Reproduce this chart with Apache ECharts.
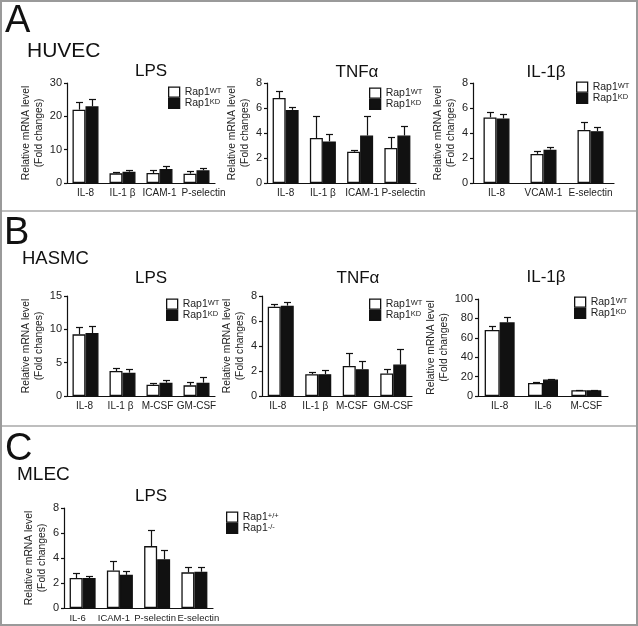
<!DOCTYPE html>
<html>
<head>
<meta charset="utf-8">
<script src="https://cdn.jsdelivr.net/npm/echarts@6/dist/echarts.min.js"></script>
<style>
html,body{margin:0;padding:0;background:#fff;}
#chart{width:638px;height:626px;}
</style>
</head>
<body>
<div id="chart"></div>
<script>
// ---------- DATA ----------
// Panel A: HUVEC
const huvecLpsCats = ['IL-8', 'IL-1 β', 'ICAM-1', 'P-selectin'];
const huvecLpsWT = [22, 2.9, 3.0, 2.8];
const huvecLpsWTSem = [2.2, 0.4, 0.8, 0.9];
const huvecLpsKD = [23, 3.4, 4.2, 3.8];
const huvecLpsKDSem = [2.3, 0.4, 0.8, 0.7];

const huvecTnfCats = ['IL-8', 'IL-1 β', 'ICAM-1', 'P-selectin'];
const huvecTnfWT = [6.8, 3.6, 2.5, 2.8];
const huvecTnfWTSem = [0.53, 1.75, 0.15, 0.85];
const huvecTnfKD = [5.85, 3.33, 3.8, 3.8];
const huvecTnfKDSem = [0.22, 0.62, 1.6, 0.75];

const huvecIl1Cats = ['IL-8', 'VCAM-1', 'E-selectin'];
const huvecIl1WT = [5.25, 2.33, 4.25];
const huvecIl1WTSem = [0.45, 0.27, 0.6];
const huvecIl1KD = [5.17, 2.67, 4.15];
const huvecIl1KDSem = [0.35, 0.18, 0.3];

// Panel B: HASMC
const hasmcLpsCats = ['IL-8', 'IL-1 β', 'M-CSF', 'GM-CSF'];
const hasmcLpsWT = [9.25, 3.75, 1.7, 1.6];
const hasmcLpsWTSem = [1.1, 0.5, 0.25, 0.5];
const hasmcLpsKD = [9.45, 3.5, 2.0, 2.0];
const hasmcLpsKDSem = [1.0, 0.6, 0.45, 0.85];

const hasmcTnfCats = ['IL-8', 'IL-1 β', 'M-CSF', 'GM-CSF'];
const hasmcTnfWT = [7.15, 1.75, 2.41, 1.8];
const hasmcTnfWTSem = [0.21, 0.18, 1.03, 0.37];
const hasmcTnfKD = [7.23, 1.75, 2.15, 2.52];
const hasmcTnfKDSem = [0.32, 0.37, 0.65, 1.27];

const hasmcIl1Cats = ['IL-8', 'IL-6', 'M-CSF'];
const hasmcIl1WT = [68, 13.5, 5.9];
const hasmcIl1WTSem = [4.5, 0.7, 0.7];
const hasmcIl1KD = [76, 17, 5.9];
const hasmcIl1KDSem = [5, 1, 0.7];

// Panel C: MLEC
const mlecLpsCats = ['IL-6', 'ICAM-1', 'P-selectin', 'E-selectin'];
const mlecLpsWT = [2.4, 3.0, 4.95, 2.85];
const mlecLpsWTSem = [0.4, 0.8, 1.3, 0.4];
const mlecLpsKO = [2.4, 2.65, 3.9, 2.9];
const mlecLpsKOSem = [0.15, 0.33, 0.75, 0.4];

// Axis scales
const axisMax = [30, 8, 8, 15, 8, 100, 8];
const axisInterval = [10, 2, 2, 5, 2, 20, 2];

// Text
const panelLetters = ['A', 'B', 'C'];
const cellTypes = ['HUVEC', 'HASMC', 'MLEC'];
const stimuli = ['LPS', 'TNFα', 'IL-1β', 'LPS', 'TNFα', 'IL-1β', 'LPS'];
const yName = 'Relative mRNA level\n(Fold changes)';

// ---------- LAYOUT ----------
const FONT = '"Liberation Sans", Arial, Helvetica, sans-serif';
const INK = '#111';

const panels = [
  {cats: huvecLpsCats, a: huvecLpsWT, aS: huvecLpsWTSem, b: huvecLpsKD, bS: huvecLpsKDSem,
   grid: {left: 67, top: 83, width: 148, height: 100}, bw: 13, gap: 18, leg: {left: 168, top: 86.5},
   names: ['WT', 'KD'], title: [151, 71], lab: 10, shift: [0, 0, 0, 7]},
  {cats: huvecTnfCats, a: huvecTnfWT, aS: huvecTnfWTSem, b: huvecTnfKD, bS: huvecTnfKDSem,
   grid: {left: 267, top: 83, width: 149, height: 100}, bw: 13, gap: 12, leg: {left: 369, top: 87.5},
   names: ['WT', 'KD'], title: [357, 72], lab: 10, shift: [0, 0, 2, 6]},
  {cats: huvecIl1Cats, a: huvecIl1WT, aS: huvecIl1WTSem, b: huvecIl1KD, bS: huvecIl1KDSem,
   grid: {left: 473, top: 83, width: 141, height: 100}, bw: 13, gap: 5, leg: {left: 576, top: 81.5},
   names: ['WT', 'KD'], title: [546, 72], lab: 10, shift: [0, 0, 0]},
  {cats: hasmcLpsCats, a: hasmcLpsWT, aS: hasmcLpsWTSem, b: hasmcLpsKD, bS: hasmcLpsKDSem,
   grid: {left: 67, top: 296, width: 148, height: 100}, bw: 13, gap: 18, leg: {left: 166, top: 298.5},
   names: ['WT', 'KD'], title: [151, 278], lab: 10, shift: [-1, -2, -2, 0]},
  {cats: hasmcTnfCats, a: hasmcTnfWT, aS: hasmcTnfWTSem, b: hasmcTnfKD, bS: hasmcTnfKDSem,
   grid: {left: 262, top: 296, width: 150, height: 100}, bw: 13, gap: 8, leg: {left: 369, top: 298.5},
   names: ['WT', 'KD'], title: [358, 278], lab: 10, shift: [-3, -3, -4, 0]},
  {cats: hasmcIl1Cats, a: hasmcIl1WT, aS: hasmcIl1WTSem, b: hasmcIl1KD, bS: hasmcIl1KDSem,
   grid: {left: 478, top: 299, width: 130, height: 97}, bw: 15, gap: 19, leg: {left: 574, top: 296.5},
   names: ['WT', 'KD'], title: [546, 277], lab: 10, shift: [0, 0, 0]},
  {cats: mlecLpsCats, a: mlecLpsWT, aS: mlecLpsWTSem, b: mlecLpsKO, bS: mlecLpsKOSem,
   grid: {left: 64, top: 508, width: 149, height: 100}, bw: 13, gap: 11.5, leg: {left: 226, top: 511.5},
   names: ['PP', 'MM'], title: [151, 496], lab: 9.5, shift: [-5, -6, -2, 4]}
];

const supText = {WT: 'WT', KD: 'KD', PP: '+/+', MM: '-/-'};

function errSeries(i, vals, sems, side, bw) {
  return {
    type: 'custom', xAxisIndex: i, yAxisIndex: i, z: 3, silent: true,
    data: vals.map((v, k) => [k, v, v + sems[k]]),
    renderItem: function (params, api) {
      const p0 = api.coord([api.value(0), api.value(1)]);
      const p1 = api.coord([api.value(0), api.value(2)]);
      const cx = Math.round(p0[0] + side * bw / 2) + 0.5;
      const ty = Math.round(p1[1]) + 0.5;
      return {
        type: 'group',
        children: [
          {type: 'line', shape: {x1: cx, y1: p0[1], x2: cx, y2: ty}, style: {stroke: INK, lineWidth: 1.2}},
          {type: 'line', shape: {x1: cx - 3.5, y1: ty, x2: cx + 3.5, y2: ty}, style: {stroke: INK, lineWidth: 1.2}}
        ]
      };
    }
  };
}

const grids = [], xAxes = [], yAxes = [], series = [], legends = [];
panels.forEach(function (p, i) {
  grids.push(Object.assign({containLabel: false, outerBoundsMode: 'none'}, p.grid));
  const rich = {};
  p.shift.forEach(function (s, k) {
    rich['c' + k] = {fontSize: p.lab, fontFamily: FONT, color: '#222',
      padding: s >= 0 ? [0, 0, 0, 2 * s] : [0, -2 * s, 0, 0]};
  });
  xAxes.push({
    type: 'category', gridIndex: i, data: p.cats,
    axisLine: {lineStyle: {color: INK, width: 1.2}},
    axisTick: {show: false},
    axisLabel: {interval: 0, color: '#222', fontSize: p.lab, fontFamily: FONT, margin: 5, hideOverlap: false,
      formatter: function (v, idx) { return '{c' + idx + '|' + v + '}'; }, rich: rich}
  });
  yAxes.push({
    type: 'value', gridIndex: i, min: 0, max: axisMax[i], interval: axisInterval[i],
    axisLine: {show: true, lineStyle: {color: INK, width: 1.2}},
    axisTick: {show: true, length: 3, lineStyle: {color: INK, width: 1.2}},
    splitLine: {show: false},
    axisLabel: {color: '#222', fontSize: 11, fontFamily: FONT, margin: 5},
    name: yName, nameLocation: 'middle', nameGap: p.gap, nameRotate: 90,
    nameTextStyle: {color: '#222', fontSize: 10.3, fontFamily: FONT, lineHeight: 13}
  });
  series.push({
    type: 'bar', name: p.names[0], xAxisIndex: i, yAxisIndex: i, data: p.a,
    barWidth: p.bw, barGap: '0%',
    itemStyle: {color: '#fff', borderColor: INK, borderWidth: 1.3}
  });
  series.push({
    type: 'bar', name: p.names[1], xAxisIndex: i, yAxisIndex: i, data: p.b,
    barWidth: p.bw, barGap: '0%',
    itemStyle: {color: INK, borderColor: INK, borderWidth: 1.3}
  });
  series.push(errSeries(i, p.a, p.aS, -1, p.bw));
  series.push(errSeries(i, p.b, p.bS, 1, p.bw));
  legends.push({
    data: p.names, orient: 'vertical', left: p.leg.left, top: p.leg.top,
    padding: 0, itemGap: 0, itemWidth: 11, itemHeight: 10, selectedMode: false,
    icon: 'rect',
    itemStyle: {borderWidth: 1.3, borderColor: INK},
    formatter: function (name) { return '{b|Rap1}{s|' + supText[name] + '}'; },
    textStyle: {
      color: '#222', fontFamily: FONT, fontSize: 10,
      rich: {
        b: {fontSize: 10.5, fontFamily: FONT, color: '#222', lineHeight: 11},
        s: {fontSize: 7.5, fontFamily: FONT, color: '#222', lineHeight: 8, verticalAlign: 'top', padding: [0, 0, 3, 0]}
      }
    }
  });
});

const graphics = [
  {type: 'rect', shape: {x: 1, y: 1, width: 636, height: 624}, style: {fill: null, stroke: '#9a9a9a', lineWidth: 2}, z: 100},
  {type: 'line', shape: {x1: 0, y1: 211, x2: 638, y2: 211}, style: {stroke: '#a8a8a8', lineWidth: 1.5}},
  {type: 'line', shape: {x1: 0, y1: 426, x2: 638, y2: 426}, style: {stroke: '#a8a8a8', lineWidth: 1.5}}
];
const letterPos = [[5, 21.5], [4, 233.5], [5, 450]];
const cellPos = [[27, 51, 21], [22, 259, 18.5], [17, 475, 19]];
panelLetters.forEach(function (t, k) {
  graphics.push({type: 'text', style: {text: t, x: letterPos[k][0], y: letterPos[k][1], fill: INK,
    fontSize: 38, fontFamily: FONT, textAlign: 'left', textVerticalAlign: 'middle'}});
  graphics.push({type: 'text', style: {text: cellTypes[k], x: cellPos[k][0], y: cellPos[k][1], fill: INK,
    fontSize: cellPos[k][2], fontFamily: FONT, textAlign: 'left', textVerticalAlign: 'middle'}});
});
panels.forEach(function (p, i) {
  graphics.push({type: 'text', style: {text: stimuli[i], x: p.title[0], y: p.title[1], fill: INK,
    fontSize: 17, fontFamily: FONT, textAlign: 'center', textVerticalAlign: 'middle'}});
});

const chart = echarts.init(document.getElementById('chart'), null, {renderer: 'canvas'});
chart.setOption({
  animation: false,
  backgroundColor: '#fff',
  grid: grids, xAxis: xAxes, yAxis: yAxes, series: series, legend: legends,
  graphic: graphics
});
</script>
</body>
</html>
